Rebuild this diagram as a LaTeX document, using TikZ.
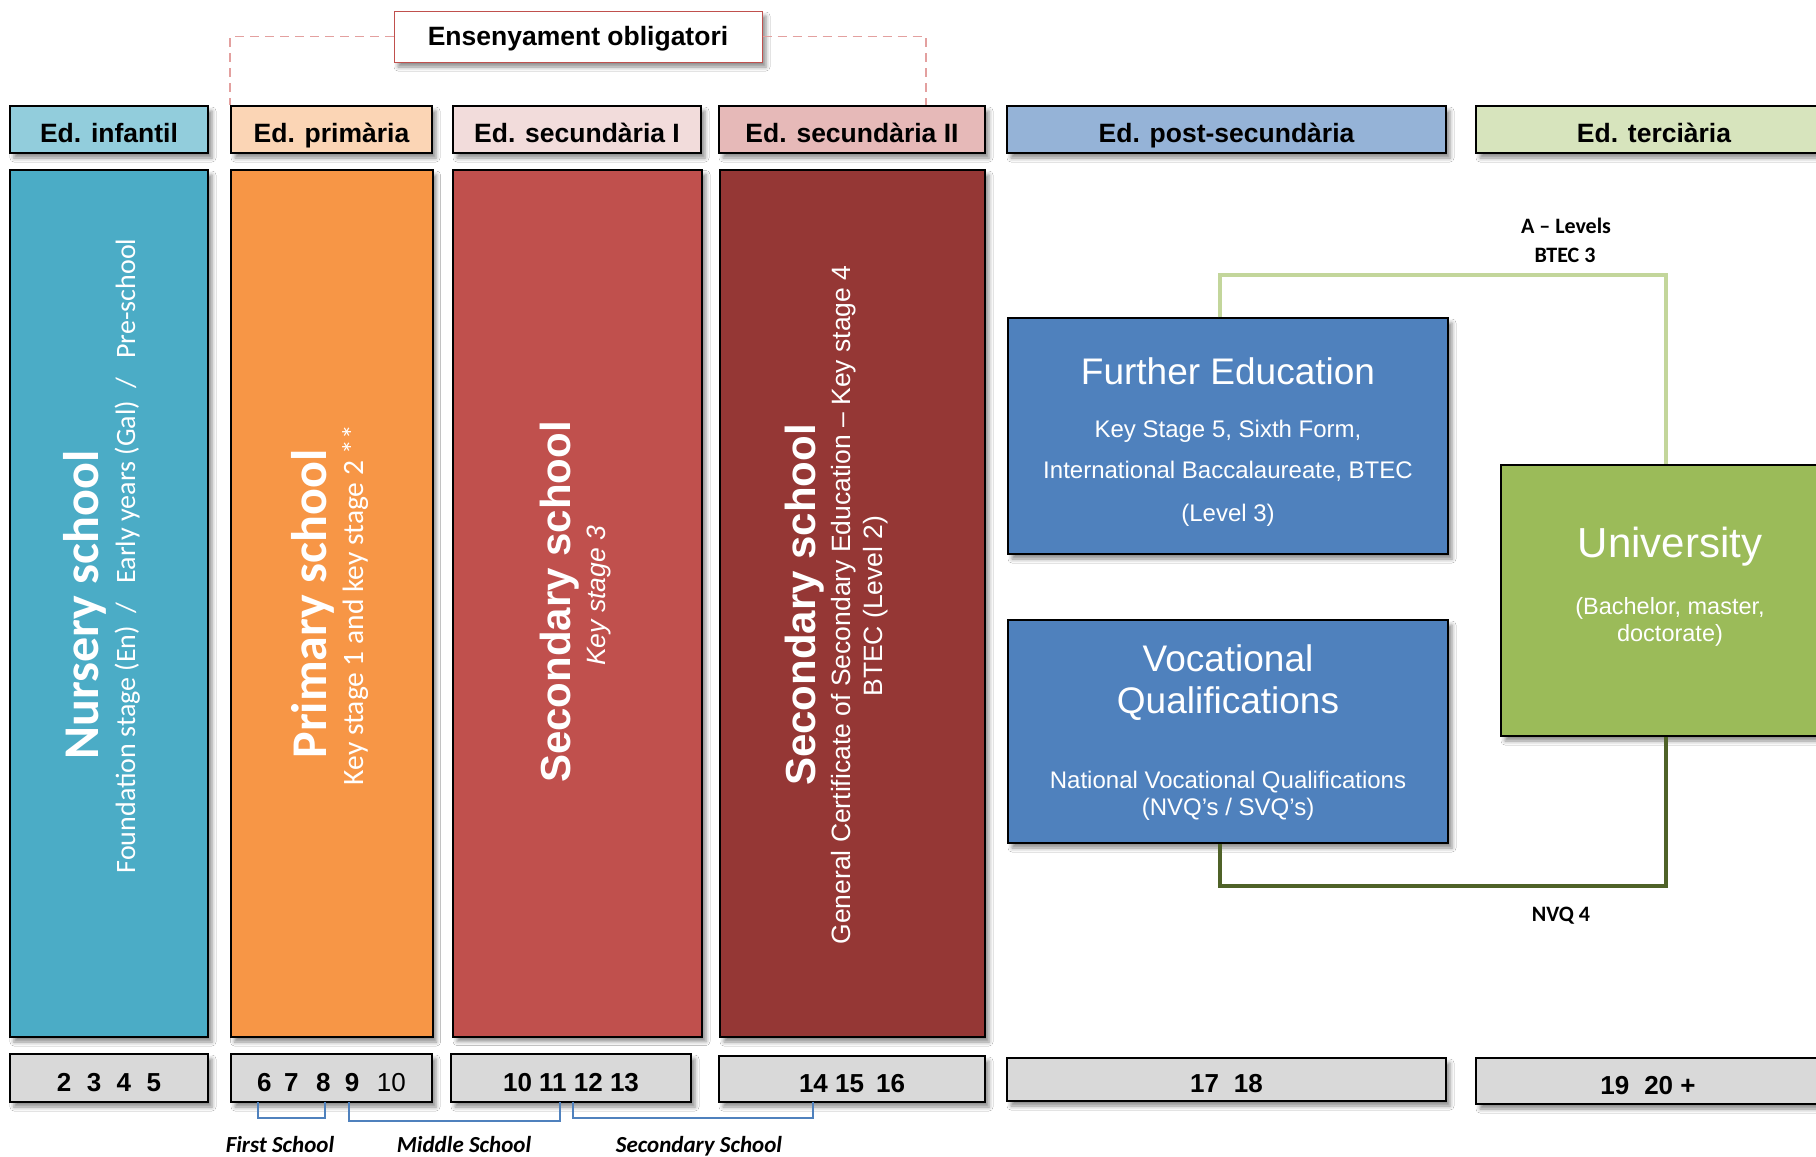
\documentclass[tikz,border=0pt]{standalone}
\usepackage{fontspec}
\setmainfont{Liberation Sans}
\newfontfamily\carl{Carlito}
\usetikzlibrary{shadows.blur,calc}
\newcommand\fsz[1]{\fontsize{#1}{#1}\selectfont}
\definecolor{infL}{HTML}{92CDDC}
\definecolor{infD}{HTML}{4BACC6}
\definecolor{priL}{HTML}{FBD5B5}
\definecolor{priD}{HTML}{F79646}
\definecolor{sunL}{HTML}{F2DCDB}
\definecolor{sunD}{HTML}{C0504D}
\definecolor{sdoL}{HTML}{E6B9B8}
\definecolor{sdoD}{HTML}{953735}
\definecolor{posL}{HTML}{95B3D7}
\definecolor{posD}{HTML}{4F81BD}
\definecolor{terL}{HTML}{D7E4BD}
\definecolor{terD}{HTML}{9BBB59}
\definecolor{ageG}{HTML}{D9D9D9}
\definecolor{lgreen}{HTML}{C3D69B}
\definecolor{dgreen}{HTML}{4F6228}
\definecolor{dashred}{HTML}{E3A09F}
\definecolor{brkblue}{HTML}{4F81BD}
\tikzset{
  shad/.style={blur shadow={shadow xshift=4pt, shadow yshift=-5pt, shadow blur radius=4pt, shadow opacity=45}},
  hdr/.style={shad, draw=black, line width=2pt, minimum height=47pt, inner sep=0pt,
    font=\bfseries\fsz{26.5}, text height=25pt, text depth=0pt},
  bar/.style={shad, draw=black, line width=2pt, minimum height=867pt, inner sep=0pt},
  agebox/.style={shad, draw=black, line width=2pt, fill=ageG, inner sep=0pt,
    font=\bfseries\fsz{26}, text height=26pt, text depth=0pt},
  bluebox/.style={shad, draw=black, line width=1.5pt, fill=posD, inner sep=0pt},
  rot/.style={rotate=90, anchor=base, inner sep=0pt, text=white},
  wtxt/.style={anchor=base, inner sep=0pt, text=white},
  btxt/.style={anchor=base, inner sep=0pt, text=black, font=\carl\bfseries\fsz{22}},
  dashln/.style={draw=dashred, line width=1.8pt, dash pattern=on 9pt off 6pt},
  brk/.style={draw=brkblue, line width=1.5pt},
  schl/.style={anchor=base, inner sep=0pt, font=\carl\bfseries\itshape\fsz{23}}
}
\begin{document}
\begin{tikzpicture}[x=1pt,y=-1pt]
\useasboundingbox (0,0) rectangle (1816,1157);
\fill[white] (0,0) rectangle (1816,1157);

% headers
\node[hdr, fill=infL, minimum width=198pt] (hi) at (109,129.5) {Ed. infantil};
\node[hdr, fill=priL, minimum width=201pt] (hp) at (331.5,129.5) {Ed. primària};
\node[hdr, fill=sunL, minimum width=248pt] (hs1) at (577,129.5) {Ed. secundària I};
\node[hdr, fill=sdoL, minimum width=266pt] (hs2) at (852,129.5) {Ed. secundària II};
\node[hdr, fill=posL, minimum width=439pt] (hpo) at (1226.5,129.5) {Ed. post-secundària};
\node[hdr, fill=terL, minimum width=356pt] (hte) at (1654,129.5) {Ed. terciària};

% compulsory education box
\node[shad, draw=sunD, line width=1pt, fill=white, minimum width=368pt, minimum height=51pt,
  inner sep=0pt, font=\bfseries\fsz{26.5}, text height=17pt, text depth=0pt] (ens) at (578,36.5) {Ensenyament obligatori};
\draw[dashln] (ens.west) -| (hp.north west);
\draw[dashln] (ens.east) -| ($(hs2.north)+(74,0)$);

% bars
\node[bar, fill=infD, minimum width=198pt] (bi) at (109,603.5) {};
\node[bar, fill=priD, minimum width=202pt] (bp) at (331.5,603.5) {};
\node[bar, fill=sunD, minimum width=249pt] (bs1) at (577.5,603) {};
\node[bar, fill=sdoD, minimum width=265pt] (bs2) at (852.5,603.5) {};

\node[rot, font=\carl\bfseries\fsz{50}] (tnur) at (98,605) {Nursery school};
\node[rot, font=\carl\fsz{28}] (snur) at (135,556) {Foundation stage (En)\hspace{0.45em}/\hspace{0.45em} Early years (Gal)\hspace{0.45em}/\hspace{0.45em} Pre-school};
\node[rot, font=\carl\bfseries\fsz{50}] (tpri) at (326,604) {Primary school};
\node[rot, font=\carl\fsz{29.5}] (spri) at (363,605) {Key stage 1 and key stage 2 **};
\node[rot, font=\bfseries\fsz{42}] (tsu) at (570,602) {Secondary school};
\node[rot, font=\itshape\fsz{26.5}] (ssu) at (605,596) {Key stage 3};
\node[rot, font=\bfseries\fsz{42}] (tsd) at (815,605) {Secondary school};
\node[rot, font=\fsz{26.5}] (ssda) at (850,605) {General Certificate of Secondary Education – Key stage 4};
\node[rot, font=\fsz{26.5}] (ssdb) at (882,606) {BTEC (Level 2)};

% age boxes
\node[agebox, minimum width=198pt, minimum height=48pt] (ai) at (109,1078) {2\hspace{15.5pt}3\hspace{15.5pt}4\hspace{15.5pt}5};
\node[agebox, minimum width=201pt, minimum height=48pt] (ap) at (331.5,1078) {6\hspace{12.5pt}7\hspace{17.5pt}8\hspace{14.5pt}9\hspace{17.5pt}{\mdseries 10}};
\node[agebox, minimum width=240pt, minimum height=48pt] (as1) at (571,1078) {10 11 12 13};
\node[agebox, minimum width=266pt, minimum height=46pt] (as2) at (852,1079) {14 15\hspace{12pt}16};
\node[agebox, minimum width=439pt, minimum height=43pt] (apo) at (1226.5,1079.5) {17\hspace{15pt}18};
\node[agebox, minimum width=344pt, minimum height=46pt] (ate) at (1648,1081) {19\hspace{15pt}20 +};

% brackets
\coordinate (fa) at (258,1102); \coordinate (fb) at (325,1102);
\coordinate (ma) at (349,1102); \coordinate (mb) at (560,1102);
\coordinate (sa) at (573,1102); \coordinate (sb) at (813,1102);
\draw[brk] (fa) -- ++(0,16) -| (fb);
\draw[brk] (ma) -- ++(0,19) -| (mb);
\draw[brk] (sa) -- ++(0,16) -| (sb);
\node[schl] (lfs) at (280,1152) {First School};
\node[schl] (lms) at (464,1152) {Middle School};
\node[schl] (lss) at (699,1152) {Secondary School};

% post-secondary and tertiary boxes
\node[bluebox, minimum width=440pt, minimum height=236pt] (fe) at (1228,436) {};
\node[bluebox, minimum width=440pt, minimum height=223pt] (vq) at (1228,731.5) {};
\node[shad, draw=black, line width=2pt, fill=terD, minimum width=338pt, minimum height=271pt, inner sep=0pt] (un) at (1670,600.5) {};

\node[wtxt, font=\fsz{37}] (fet) at (1228,384) {Further Education};
\node[wtxt, font=\fsz{24}] (fea) at (1228,437) {Key Stage 5, Sixth Form,};
\node[wtxt, font=\fsz{24}] (feb) at (1228,478) {International Baccalaureate, BTEC};
\node[wtxt, font=\fsz{24}] (fec) at (1228,521) {(Level 3)};
\node[wtxt, font=\fsz{37}] (vqa) at (1228,671) {Vocational};
\node[wtxt, font=\fsz{37}] (vqb) at (1228,713) {Qualifications};
\node[wtxt, font=\fsz{24}] (vqc) at (1228,788) {National Vocational Qualifications};
\node[wtxt, font=\fsz{24}] (vqd) at (1228,815) {(NVQ’s / SVQ’s)};
\node[wtxt, font=\fsz{42}] (una) at (1670,557) {University};
\node[wtxt, font=\fsz{23.5}] (unb) at (1670,614) {(Bachelor, master,};
\node[wtxt, font=\fsz{23.5}] (unc) at (1670,641) {doctorate)};

% connectors
\coordinate (gtop) at (0,275);
\coordinate (gbot) at (0,886);
\coordinate (fex) at ($(fe.north)+(-8,0)$);
\coordinate (vqx) at ($(vq.south)+(-8,0)$);
\coordinate (unx) at ($(un.north)+(-4,0)$);
\coordinate (uny) at ($(un.south)+(-4,0)$);
\draw[lgreen, line width=4pt] (fex) -- (fex |- gtop) -| (unx);
\draw[dgreen, line width=4pt] (vqx) -- (vqx |- gbot) -| (uny);
\node[btxt] (lal) at (1566,233) {A – Levels};
\node[btxt] (lbt) at (1565,262) {BTEC 3};
\node[btxt] (lnv) at (1561,921) {NVQ 4};
\end{tikzpicture}
\end{document}
